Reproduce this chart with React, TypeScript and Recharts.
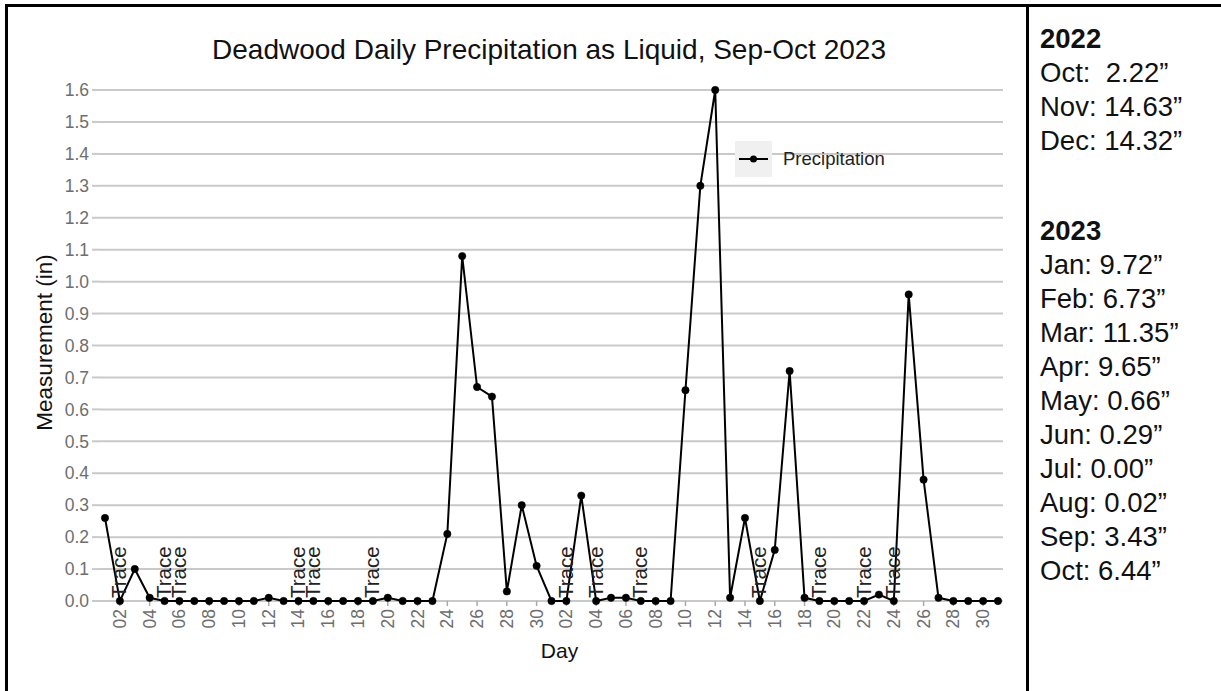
import React from 'react';
import { LineChart, Line, XAxis, YAxis, CartesianGrid, Legend, LabelList } from 'recharts';

// daily precipitation as liquid (in)
const sepPrecip = [
  0.26, 0, 0.1, 0.01, 0, 0, 0, 0, 0, 0,
  0, 0.01, 0, 0, 0, 0, 0, 0, 0, 0.01,
  0, 0, 0, 0.21, 1.08, 0.67, 0.64, 0.03, 0.3, 0.11,
];
const octPrecip = [
  0, 0, 0.33, 0, 0.01, 0.01, 0, 0, 0, 0.66,
  1.3, 1.6, 0.01, 0.26, 0, 0.16, 0.72, 0.01, 0, 0,
  0, 0, 0.02, 0, 0.96, 0.38, 0.01, 0, 0, 0, 0,
];
const sepTraceDays = [2, 5, 6, 14, 15, 19];
const octTraceDays = [2, 4, 7, 15, 19, 22, 24];

const yTicks = [0, 0.1, 0.2, 0.3, 0.4, 0.5, 0.6, 0.7, 0.8, 0.9, 1.0, 1.1, 1.2, 1.3, 1.4, 1.5, 1.6];

const totals2022 = ['Oct:  2.22\u201d', 'Nov: 14.63\u201d', 'Dec: 14.32\u201d'];
const totals2023 = [
  'Jan: 9.72\u201d', 'Feb: 6.73\u201d', 'Mar: 11.35\u201d', 'Apr: 9.65\u201d', 'May: 0.66\u201d',
  'Jun: 0.29\u201d', 'Jul: 0.00\u201d', 'Aug: 0.02\u201d', 'Sep: 3.43\u201d', 'Oct: 6.44\u201d',
];

const pad = (d: number) => (d < 10 ? '0' + d : String(d));

const data = [
  ...sepPrecip.map((v, i) => ({ day: i + 1, value: v, note: sepTraceDays.includes(i + 1) ? 'Trace' : '' })),
  ...octPrecip.map((v, i) => ({ day: i + 1, value: v, note: octTraceDays.includes(i + 1) ? 'Trace' : '' })),
].map((d, idx) => ({ ...d, idx, label: pad(d.day) }));

const xTicks = data.filter((d) => d.day % 2 === 0).map((d) => d.idx);

const FONT = '"Liberation Sans", Arial, sans-serif';
const GREY = '#6e6e6e';

const XTick = (props: any) => {
  const { x, y, payload } = props;
  return (
    <text
      x={x}
      y={y}
      transform={`rotate(-90 ${x} ${y})`}
      textAnchor="end"
      dominantBaseline="central"
      fontSize={17.5}
      fill={GREY}
      fontFamily={FONT}
    >
      {data[payload.value].label}
    </text>
  );
};

const TraceLabel = (props: any) => {
  const { x, y, value } = props;
  if (!value) return null;
  const ty = y - 3;
  return (
    <text
      x={x - 1}
      y={ty}
      transform={`rotate(-90 ${x - 1} ${ty})`}
      textAnchor="start"
      dominantBaseline="central"
      fontSize={20.5}
      fill="#222"
      fontFamily={FONT}
    >
      {value}
    </text>
  );
};

const YTitle = (props: any) => {
  const vb = props.viewBox || { y: 90, height: 511 };
  const cy = vb.y + vb.height / 2 - 3;
  return (
    <text x={44} y={cy} transform={`rotate(-90 44 ${cy})`} textAnchor="middle" dominantBaseline="central" fontSize={22.5} fill="#111" fontFamily={FONT}>
      Measurement (in)
    </text>
  );
};

const XTitle = (props: any) => {
  const vb = props.viewBox || { x: 100, width: 903 };
  const cx = vb.x + vb.width / 2 + 8;
  return (
    <text x={cx} y={650} textAnchor="middle" dominantBaseline="central" fontSize={21} fill="#111" fontFamily={FONT}>
      Day
    </text>
  );
};

const LegendBox = (props: any) => {
  const item = props.payload && props.payload[0];
  return (
    <div style={{ display: 'flex', alignItems: 'center', fontFamily: FONT }}>
      <svg width={37} height={36}>
        <rect x={0} y={0} width={37} height={36} fill="#f0f0f0" />
        <line x1={4} x2={33} y1={18} y2={18} stroke="#000" strokeWidth={2} />
        <circle cx={18.5} cy={18} r={3.5} fill="#000" />
      </svg>
      <span style={{ marginLeft: 11, fontSize: 18.5, color: '#222' }}>{item ? item.value : 'Precipitation'}</span>
    </div>
  );
};

export default function App() {
  return (
    <div style={{ position: 'absolute', left: 0, top: 0, width: 1221, height: 691, background: '#fff', fontFamily: FONT }}>
      <div style={{ position: 'absolute', left: 0, top: 36, width: 1098, textAlign: 'center', fontSize: 28, lineHeight: '28px', color: '#111' }}>
        Deadwood Daily Precipitation as Liquid, Sep-Oct 2023
      </div>

      <div style={{ position: 'absolute', left: 0, top: 0 }}>
        <LineChart width={1027} height={691} data={data} margin={{ top: 90, right: 24, bottom: 0, left: 40 }}>
          <CartesianGrid horizontal vertical={false} stroke="#c9c9c9" strokeWidth={2} />
          <XAxis
            dataKey="idx"
            type="number"
            domain={[0, data.length - 1]}
            ticks={xTicks}
            interval={0}
            padding={{ left: 5, right: 5 }}
            height={90}
            axisLine={false}
            tickLine={{ stroke: '#aaa', strokeWidth: 1.5 }}
            tickSize={5}
            tickMargin={3}
            tick={<XTick />}
            label={<XTitle />}
          />
          <YAxis
            type="number"
            domain={[0, 1.6]}
            ticks={yTicks}
            interval={0}
            width={60}
            axisLine={false}
            tickLine={{ stroke: '#c9c9c9', strokeWidth: 2 }}
            tickSize={8}
            tickMargin={3}
            tickFormatter={(v: number) => v.toFixed(1)}
            tick={{ fontSize: 17.5, fill: GREY, fontFamily: FONT }}
            label={<YTitle />}
          />
          <Legend
            layout="horizontal"
            verticalAlign="middle"
            align="center"
            content={<LegendBox />}
            wrapperStyle={{ position: 'absolute', left: 735, top: 141, width: 200, height: 36 }}
          />
          <Line
            name="Precipitation"
            dataKey="value"
            stroke="#000"
            strokeWidth={2}
            dot={{ r: 3.7, fill: '#000', stroke: '#000', strokeWidth: 0.5 }}
            activeDot={false}
            isAnimationActive={false}
          >
            <LabelList dataKey="note" content={<TraceLabel />} />
          </Line>
        </LineChart>
      </div>

      {/* frame */}
      <div style={{ position: 'absolute', left: 5, top: 4, width: 1216, height: 3, background: '#000' }} />
      <div style={{ position: 'absolute', left: 5, top: 4, width: 3, height: 687, background: '#000' }} />
      <div style={{ position: 'absolute', left: 1026, top: 4, width: 3, height: 687, background: '#000' }} />

      {/* yearly / monthly totals */}
      <div style={{ position: 'absolute', left: 1040, top: 25, fontSize: 27.5, lineHeight: '28px', color: '#111' }}>
        <div style={{ fontWeight: 'bold' }}>2022</div>
        {totals2022.map((t) => (
          <div key={t} style={{ marginTop: 6, whiteSpace: 'pre' }}>{t}</div>
        ))}
        <div style={{ fontWeight: 'bold', marginTop: 62 }}>2023</div>
        {totals2023.map((t) => (
          <div key={t} style={{ marginTop: 6, whiteSpace: 'pre' }}>{t}</div>
        ))}
      </div>
    </div>
  );
}
